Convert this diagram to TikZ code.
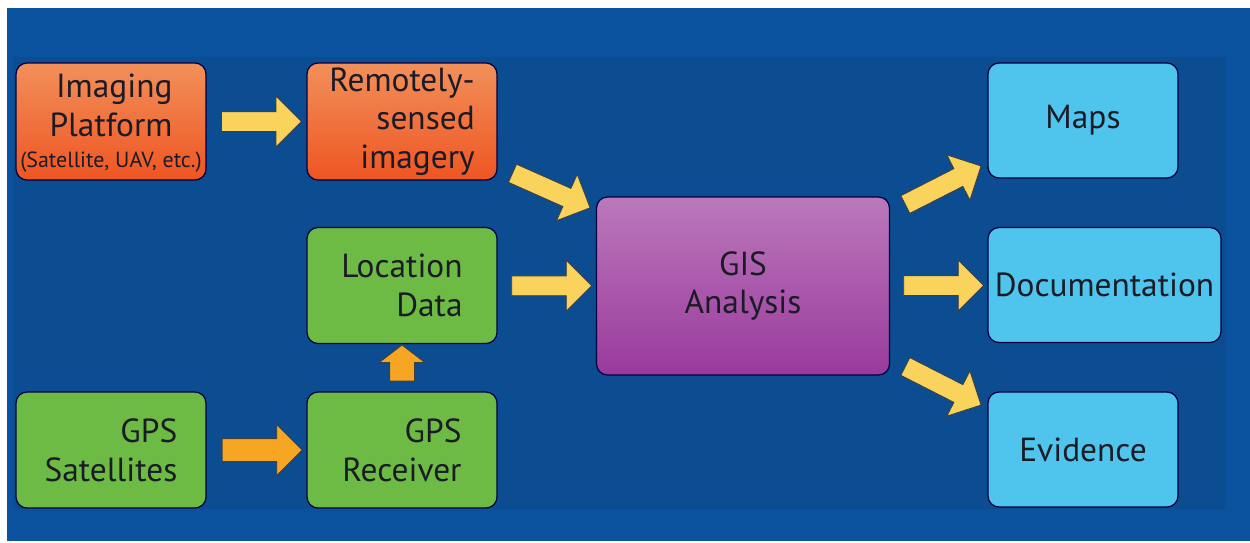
\documentclass[tikz,border=0pt]{standalone}
\usepackage{fontspec}
\setmainfont{PT Sans}
\usetikzlibrary{shapes.arrows}
\definecolor{bgblue}{HTML}{0A529E}
\definecolor{panelblue}{HTML}{0C4C91}
\definecolor{imgtop}{HTML}{F2905A}
\definecolor{imgbottom}{HTML}{EE5522}
\definecolor{gpsgreen}{HTML}{6DBB44}
\definecolor{gistop}{HTML}{BB78BB}
\definecolor{gisbottom}{HTML}{993A9C}
\definecolor{outcyan}{HTML}{4FC4EC}
\definecolor{arrowyellow}{HTML}{F9D35C}
\definecolor{arroworange}{HTML}{F6A623}
\definecolor{textdark}{HTML}{1B1B26}

\begin{document}
\begin{tikzpicture}[x=0.02cm, y=-0.02cm,
    box/.style={rounded corners=0.22cm, draw=black!75!blue, line width=0.7pt,
        text=textdark, font=\fontsize{19}{22}\selectfont, inner sep=0pt},
    srcbox/.style={box, top color=imgtop, bottom color=imgbottom,
        minimum width=3.8cm, minimum height=2.34cm, align=right},
    gpsbox/.style={box, fill=gpsgreen, minimum width=3.8cm, minimum height=2.32cm, align=right},
    gisbox/.style={box, top color=gistop, bottom color=gisbottom,
        minimum width=5.86cm, minimum height=3.56cm, align=center},
    outbox/.style={box, fill=outcyan, minimum height=2.3cm},
    arrowbase/.style={single arrow, draw=black!75, line width=0.5pt, inner xsep=0pt,
        text height=0pt, text depth=0pt},
    yarrow/.style={arrowbase, fill=arrowyellow, inner ysep=0.19cm,
        single arrow head extend=0.31cm, minimum height=1.6cm},
    oarrow/.style={arrowbase, fill=arroworange, inner ysep=0.22cm,
        single arrow head extend=0.28cm, minimum height=1.6cm}]

    % Background
    \fill[white] (0,0) rectangle (1250,542);
    \fill[bgblue] (7,8) rectangle (1250,541);
    \fill[panelblue] (13,57) rectangle (1226,509);

    % Sources
    \node[srcbox, align=center] (imgp) at (111,121.5)
        {\begin{tabular}{@{}r@{}}Imaging\\Platform\end{tabular}\\[1pt]
         {\fontsize{12.5}{14}\selectfont (Satellite, UAV, etc.)}};
    \node[srcbox] (rsi) at (402,121.5) {Remotely-\\sensed\\imagery};
    \node[gpsbox] (loc) at (402,285.5) {Location\\Data};
    \node[gpsbox] (gpss) at (111,450) {GPS\\Satellites};
    \node[gpsbox] (gpsr) at (402,450) {GPS\\Receiver};

    % Analysis
    \node[gisbox] (gis) at (743,286) {GIS\\Analysis};

    % Products
    \foreach \nm/\x/\y/\w/\txt in {maps/1083/120.5/3.8/Maps,
        doc/1104.5/285/4.66/Documentation, evid/1083/449.5/3.8/Evidence} {
        \node[outbox, minimum width=\w cm] (\nm) at (\x,\y) {\txt};
    }

    % Arrows
    \path (imgp.east) -- node[yarrow] {} (rsi.west);
    \path (rsi.south east) -- node[yarrow, rotate=-24, minimum height=1.7cm] {} (gis.north west);
    \path (loc.east) -- node[yarrow] {} (gis.west);
    \path (gpss.east) -- node[oarrow] {} (gpsr.west);
    \path (gpsr.north) -- node[oarrow, rotate=90, minimum height=0.72cm, inner ysep=0.24cm,
        single arrow head extend=0.21cm, single arrow tip angle=105] {} (loc.south);
    \path (gis.north east) -- node[yarrow, rotate=27, minimum height=1.7cm] {} (maps.south west);
    \path (gis.east) -- node[yarrow] {} (doc.west);
    \path (gis.south east) -- node[yarrow, rotate=-27, minimum height=1.7cm] {} (evid.north west);
\end{tikzpicture}
\end{document}
